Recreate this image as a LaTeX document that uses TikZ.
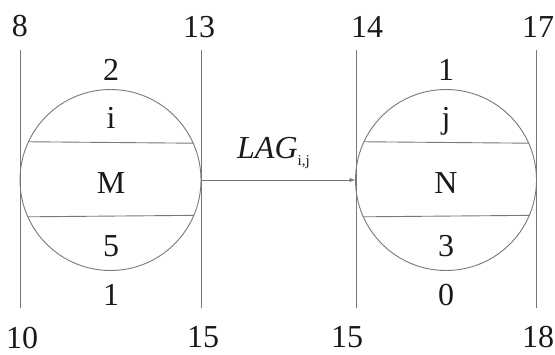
\documentclass[tikz,border=0pt]{standalone}
\usepackage{fontspec}
\setmainfont{Liberation Serif}
\usetikzlibrary{arrows.meta}
\definecolor{linegray}{RGB}{120,120,120}
\definecolor{txt}{RGB}{25,25,25}
\begin{document}
\begin{tikzpicture}[x=1pt,y=-1pt,
  ln/.style={draw=linegray,line width=0.9pt},
  lbl/.style={anchor=base,inner sep=0pt,text=txt,font=\fontsize{32}{36}\selectfont},
  ring/.style={circle,draw=linegray,line width=0.9pt,minimum size=181pt,inner sep=0pt,outer sep=0pt}]
\useasboundingbox (0,0) rectangle (555,354);
% circles
\node[ring] (M) at (110.5,180) {};
\node[ring] (N) at (446,180) {};
% chords
\draw[ln] (M.155.9) -- (M.24.1);
\draw[ln] (M.-156.6) -- (M.-23.4);
\draw[ln] (N.155.9) -- (N.24.1);
\draw[ln] (N.-156.6) -- (N.-23.4);
% vertical lines
\coordinate (a1) at (20,50);  \coordinate (a2) at (20,308);
\coordinate (b1) at (201,50); \coordinate (b2) at (201,308);
\coordinate (c1) at (356,50); \coordinate (c2) at (356,308);
\coordinate (d1) at (536,50); \coordinate (d2) at (536,308);
\draw[ln] (a1) -- (a2);
\draw[ln] (b1) -- (b2);
\draw[ln] (c1) -- (c2);
\draw[ln] (d1) -- (d2);
% arrow
\draw[ln,-{Latex[length=6pt,width=4.5pt]}] (M.east) -- (N.west);
\node[lbl,anchor=base west] (lag) at (237,158) {\textit{LAG}\raisebox{-0.22em}{\fontsize{15}{15}\selectfont i,j}};
% line end labels
\node[lbl] (t8)  at (20,36)  {8};
\node[lbl] (t13) at (199,37) {13};
\node[lbl] (t14) at (367,37) {14};
\node[lbl] (t17) at (538,37) {17};
\node[lbl] (b10) at (22,348) {10};
\node[lbl] (b15a) at (203,347) {15};
\node[lbl] (b15b) at (347,347) {15};
\node[lbl] (b18) at (538,347) {18};
% M labels
\node[lbl] (m2) at (111,80) {2};
\node[lbl] (mi) at (111,128) {i};
\node[lbl] (mM) at (111,193) {M};
\node[lbl] (m5) at (111,256) {5};
\node[lbl] (m1) at (111,305) {1};
% N labels
\node[lbl] (n1) at (446,80) {1};
\node[lbl] (nj) at (446,128) {j};
\node[lbl] (nN) at (446,193) {N};
\node[lbl] (n3) at (446,256) {3};
\node[lbl] (n0) at (446,305) {0};
\end{tikzpicture}
\end{document}
